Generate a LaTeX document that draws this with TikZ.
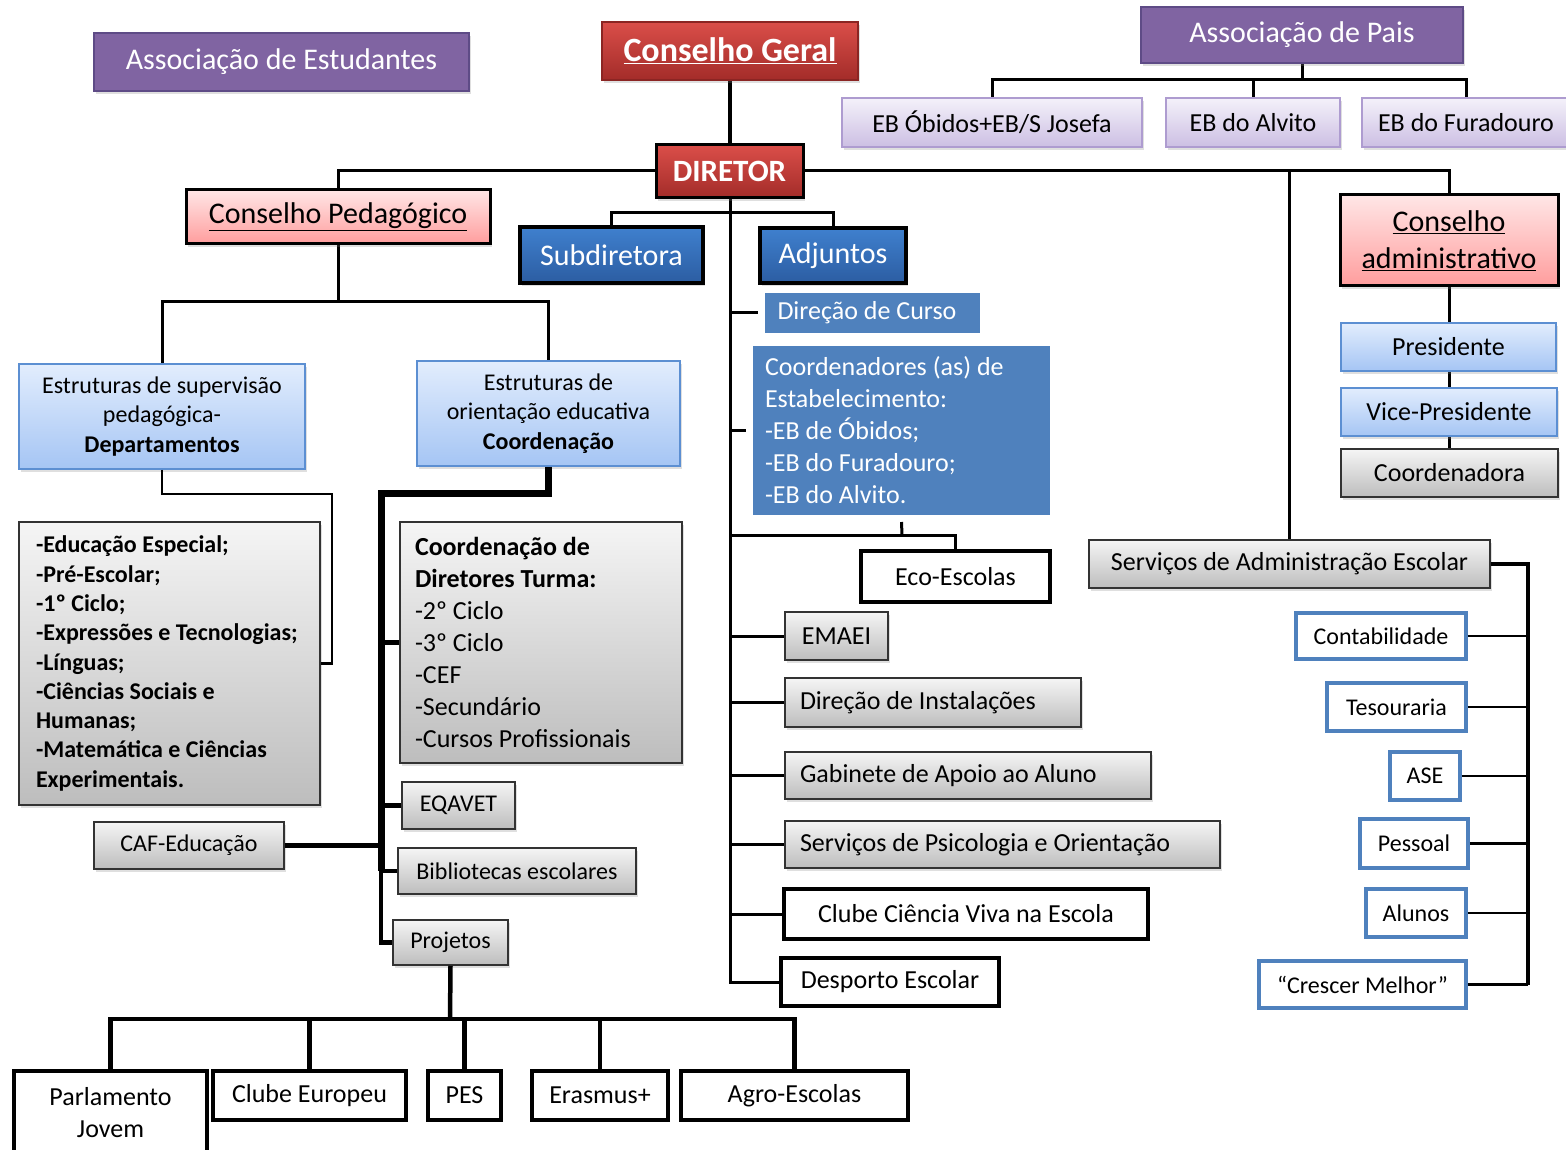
\documentclass[tikz,border=0pt]{standalone}
\usepackage{fontspec}
\setmainfont{Carlito}
\usetikzlibrary{shadows}

% Font sizes
\newcommand\fhuge{\fontsize{34}{40}\selectfont}
\newcommand\fbig{\fontsize{30}{37}\selectfont}
\newcommand\fmid{\fontsize{26}{32}\selectfont}
\newcommand\fsml{\fontsize{24}{29.5}\selectfont}
\newcommand\natsp{\spaceskip=0pt\xspaceskip=0pt\relax}

% Colours
\definecolor{purp}{HTML}{8064A2}
\definecolor{purpline}{HTML}{5E4B86}
\definecolor{redtop}{HTML}{DA4E49}
\definecolor{redbot}{HTML}{A32C29}
\definecolor{pinktop}{HTML}{FFE6E6}
\definecolor{pinkbot}{HTML}{FF9D9D}
\definecolor{navytop}{HTML}{3F80CE}
\definecolor{navybot}{HTML}{2C5DA2}
\definecolor{skytop}{HTML}{E2EDFD}
\definecolor{skybot}{HTML}{A5C5F4}
\definecolor{skyline}{HTML}{5C8FD2}
\definecolor{lavtop}{HTML}{F4F1FA}
\definecolor{lavbot}{HTML}{CCBFE3}
\definecolor{lavline}{HTML}{AE9CD0}
\definecolor{graytop}{HTML}{F5F5F5}
\definecolor{graybot}{HTML}{BDBDBD}
\definecolor{steel}{HTML}{4F81BD}

\tikzset{
  softshadow/.style={drop shadow={shadow xshift=2pt,shadow yshift=-3pt,opacity=0.25}},
  box/.style={rectangle,inner sep=0pt,align=center,font=\fmid,text=black},
  assocbox/.style={box,fill=purp,draw=purpline,line width=2.5pt,text=white,font=\fbig,softshadow},
  councilbox/.style={box,top color=redtop,bottom color=redbot,draw=redbot!85!black,line width=1.5pt,text=white,font=\fhuge\bfseries,softshadow},
  dirbox/.style={box,top color=redtop,bottom color=redbot,draw=black,line width=3pt,text=white,font=\fontsize{31}{37}\selectfont\bfseries,softshadow},
  pinkbox/.style={box,top color=pinktop,bottom color=pinkbot,draw=black,line width=3pt,font=\fbig,softshadow},
  navybox/.style={box,top color=navytop,bottom color=navybot,draw=black,line width=3.5pt,text=white,font=\fbig,softshadow},
  skybox/.style={box,top color=skytop,bottom color=skybot,draw=skyline,line width=1.5pt,softshadow},
  lavbox/.style={box,top color=lavtop,bottom color=lavbot,draw=lavline,line width=2pt,softshadow},
  graybox/.style={box,top color=graytop,bottom color=graybot,draw=black!80,line width=1.5pt,softshadow},
  plainbox/.style={box,fill=white,draw=black,line width=4pt},
  steelbox/.style={box,fill=white,draw=steel,line width=3.5pt,font=\fsml},
  framebox/.style={box,fill=steel,draw=white,line width=7pt,text=white,softshadow},
  link/.style={draw=black,line width=3pt},
  medium/.style={draw=black,line width=4.5pt},
  heavy/.style={draw=black,line width=7pt}
}

\begin{document}
\begin{tikzpicture}[x=1pt,y=-1pt]
  % Boundary
  \path[use as bounding box] (0,0) rectangle (1566,1150);
  % Joints
  \coordinate (pj) at (1302,80);
  \coordinate (dj) at (730,213);
  \coordinate (cpj) at (338,302);
  \coordinate (lj) at (332,494);
  \coordinate (oj) at (381,493);
  \coordinate (ecoj) at (902,535);
  \coordinate (prj) at (450,1019);
  \coordinate (sj) at (1528,564);

  % Connectors (drawn first, boxes cover them)
  \draw[medium] (730,51) -- (730,171);
  \draw[link] (338,217) |- (1449,171) -- (1449,240);
  \draw[link] (1289.5,564) -- (1289.5,171);
  \draw[link] (1302,35) -- (pj);
  \draw[link] (992,122) |- (pj) -| (1466,122);
  \draw[link] (1253,122) -- (1253,80);
  \draw[link] (730,171) |- (890,982);
  \draw[link] (611.5,255) |- (dj) -| (833,255);
  \draw[link] (338,217) -- (cpj);
  \draw[link] (162,416) |- (cpj) -| (548.5,413);
  \draw[link] (1449,240) -- (1449,473);

  % Upper row
  \node[assocbox,minimum width=375pt,minimum height=58pt] (aest) at (281.5,62) {Associação de Estudantes};
  \node[councilbox,minimum width=256pt,minimum height=58pt] (cg) at (730,51) {\underline{Conselho Geral}};
  \node[assocbox,minimum width=322pt,minimum height=56pt] (apais) at (1302,35) {Associação de Pais};
  \node[lavbox,minimum width=300pt,minimum height=49pt] (ebo) at (992,122.5) {EB Óbidos+EB/S Josefa};
  \node[lavbox,minimum width=174pt,minimum height=49pt] (eba) at (1253,122.5) {EB do Alvito};
  \node[lavbox,minimum width=208pt,minimum height=49pt] (ebf) at (1466,122.5) {EB do Furadouro};

  % Direction
  \node[dirbox,minimum width=147pt,minimum height=53pt] (dir) at (729.5,171.5) {DIRETOR};
  \node[pinkbox,minimum width=304pt,minimum height=54pt] (cp) at (338,217) {\underline{Conselho Pedagógico}};
  \node[navybox,minimum width=183pt,minimum height=56pt] (sub) at (611.5,255) {Subdiretora};
  \node[navybox,minimum width=146pt,minimum height=55pt] (adj) at (833,255.5) {Adjuntos};
  \node[pinkbox,minimum width=218pt,minimum height=91pt] (ca) at (1449,240.5) {\underline{Conselho}\\\underline{administrativo}};
  \node[skybox,minimum width=215pt,minimum height=48pt] (pres) at (1448.5,347) {Presidente};
  \node[skybox,minimum width=216pt,minimum height=48pt] (vice) at (1449,412) {Vice-Presidente};
  \node[graybox,minimum width=217pt,minimum height=48pt] (coordn) at (1449.5,473) {Coordenadora};

  % Middle column
  \draw[link] (dir.south |- 0,313) -- (761.5,313);
  \draw[link] (dir.south |- 0,430) -- (749.5,430);
  \node[framebox,minimum width=222pt,minimum height=47pt,text width=190pt,align=left] (dc) at (872.5,313) {\natsp Direção de Curso};
  \node[framebox,minimum width=304pt,minimum height=176pt,text width=273pt,align=left] (coord) at (901.5,430.5)
    {\natsp Coordenadores (as) de\\Estabelecimento:\\-EB de Óbidos;\\-EB do Furadouro;\\-EB do Alvito.};
  \node[plainbox,minimum width=189pt,minimum height=51pt] (eco) at (955.5,576.5) {Eco-Escolas};
  \draw[link] (coord.south) -- (ecoj);
  \draw[link] (ecoj -| dir.south) -| (eco.north);
  \node[graybox,minimum width=103pt,minimum height=48pt] (emaei) at (836.5,636) {EMAEI};
  \node[graybox,minimum width=296pt,minimum height=49pt,text width=266pt,align=left] (dinst) at (933,702.5) {\natsp Direção de Instalações};
  \node[graybox,minimum width=366pt,minimum height=47pt,text width=336pt,align=left] (gab) at (968,775.5) {\natsp Gabinete de Apoio ao Aluno};
  \node[graybox,minimum width=435pt,minimum height=47pt,text width=405pt,align=left] (spo) at (1002.5,844.5) {\natsp Serviços de Psicologia e Orientação};
  \node[plainbox,minimum width=364pt,minimum height=50pt] (ccv) at (966,914) {Clube Ciência Viva na Escola};
  \node[plainbox,minimum width=218pt,minimum height=48pt] (desp) at (890,982) {Desporto Escolar};
  \foreach \n in {emaei,dinst,gab,spo,ccv}
    \draw[link] (\n.west) -- (\n.west -| dir.south);

  % Pedagogical council
  \node[skybox,minimum width=286pt,minimum height=105pt,font=\fsml] (esup) at (162,416.5)
    {Estruturas de supervisão\\pedagógica-\\\textbf{Departamentos}};
  \node[skybox,minimum width=263pt,minimum height=105pt,font=\fsml] (eori) at (548.5,413.5)
    {Estruturas de\\orientação educativa\\\textbf{Coordenação}};
  \node[graybox,minimum width=301pt,minimum height=283pt,text width=267pt,align=left,font=\fontsize{24}{29.3}\selectfont\bfseries] (list) at (169.5,663.5)
    {\natsp -Educação Especial;\\-Pré-Escolar;\\-1º Ciclo;\\-Expressões e Tecnologias;\\-Línguas;\\-Ciências Sociais e\\Humanas;\\-Matemática e Ciências\\Experimentais.};
  \draw[link,line width=2.5pt] (esup.south) |- (lj) |- (list.east);
  \node[graybox,minimum width=282pt,minimum height=241pt,text width=252pt,align=left] (cdt) at (541,642.5)
    {\natsp\textbf{Coordenação de}\\\textbf{Diretores Turma:}\\-2º Ciclo\\-3º Ciclo\\-CEF\\-Secundário\\-Cursos Profissionais};
  \node[graybox,minimum width=113pt,minimum height=47pt,font=\fsml] (eq) at (458.5,805.5) {EQAVET};
  \node[graybox,minimum width=190pt,minimum height=47pt,font=\fsml] (caf) at (189,845.5) {CAF-Educação};
  \node[graybox,minimum width=238pt,minimum height=46pt,font=\fsml] (bib) at (517,871) {Bibliotecas escolares};
  \node[graybox,minimum width=115pt,minimum height=45pt,font=\fsml] (proj) at (450.5,942.5) {Projetos};
  \draw[heavy] (eori.south) |- (oj) -- (oj |- bib.west);
  \draw[medium] (oj |- bib.west) |- (proj.west);
  \foreach \n in {cdt,eq,bib}
    \draw[medium] (\n.west) -- (\n.west -| oj);
  \draw[medium] (caf.east) -- (caf.east -| oj);

  % Projects
  \node[plainbox,minimum width=193pt,minimum height=84pt] (parl) at (110.5,1113) {Parlamento\\Jovem};
  \node[plainbox,minimum width=193pt,minimum height=49pt] (ce) at (309.5,1095.5) {Clube Europeu};
  \node[plainbox,minimum width=73pt,minimum height=49pt] (pes) at (464.5,1095.5) {PES};
  \node[plainbox,minimum width=136pt,minimum height=49pt] (eras) at (600,1095.5) {Erasmus+};
  \node[plainbox,minimum width=227pt,minimum height=49pt] (agro) at (794.5,1095.5) {Agro-Escolas};
  \draw[medium] (proj.south) -- (prj);
  \draw[medium] (parl.north) |- (prj) -| (agro.north);
  \foreach \n in {ce,pes,eras}
    \draw[medium] (\n.north) -- (\n.north |- prj);

  % School administration
  \node[graybox,minimum width=401pt,minimum height=48pt] (sae) at (1289.5,564) {Serviços de Administração Escolar};
  \node[steelbox,minimum width=170pt,minimum height=46pt] (cont) at (1381,636) {Contabilidade};
  \node[steelbox,minimum width=139pt,minimum height=48pt] (tes) at (1396.5,707) {Tesouraria};
  \node[steelbox,minimum width=70pt,minimum height=48pt] (ase) at (1425,776) {ASE};
  \node[steelbox,minimum width=108pt,minimum height=49pt] (pess) at (1414,843.5) {Pessoal};
  \node[steelbox,minimum width=100pt,minimum height=48pt] (alu) at (1416,913) {Alunos};
  \node[steelbox,minimum width=207pt,minimum height=47pt] (crm) at (1362.5,984.5) {“Crescer Melhor”};
  \draw[medium] (sae.east) -| (sj |- crm.east);
  \foreach \n in {cont,tes,ase,pess,alu,crm}
    \draw[link,line width=2.5pt] (\n.east) -- (\n.east -| sj);
\end{tikzpicture}
\end{document}
